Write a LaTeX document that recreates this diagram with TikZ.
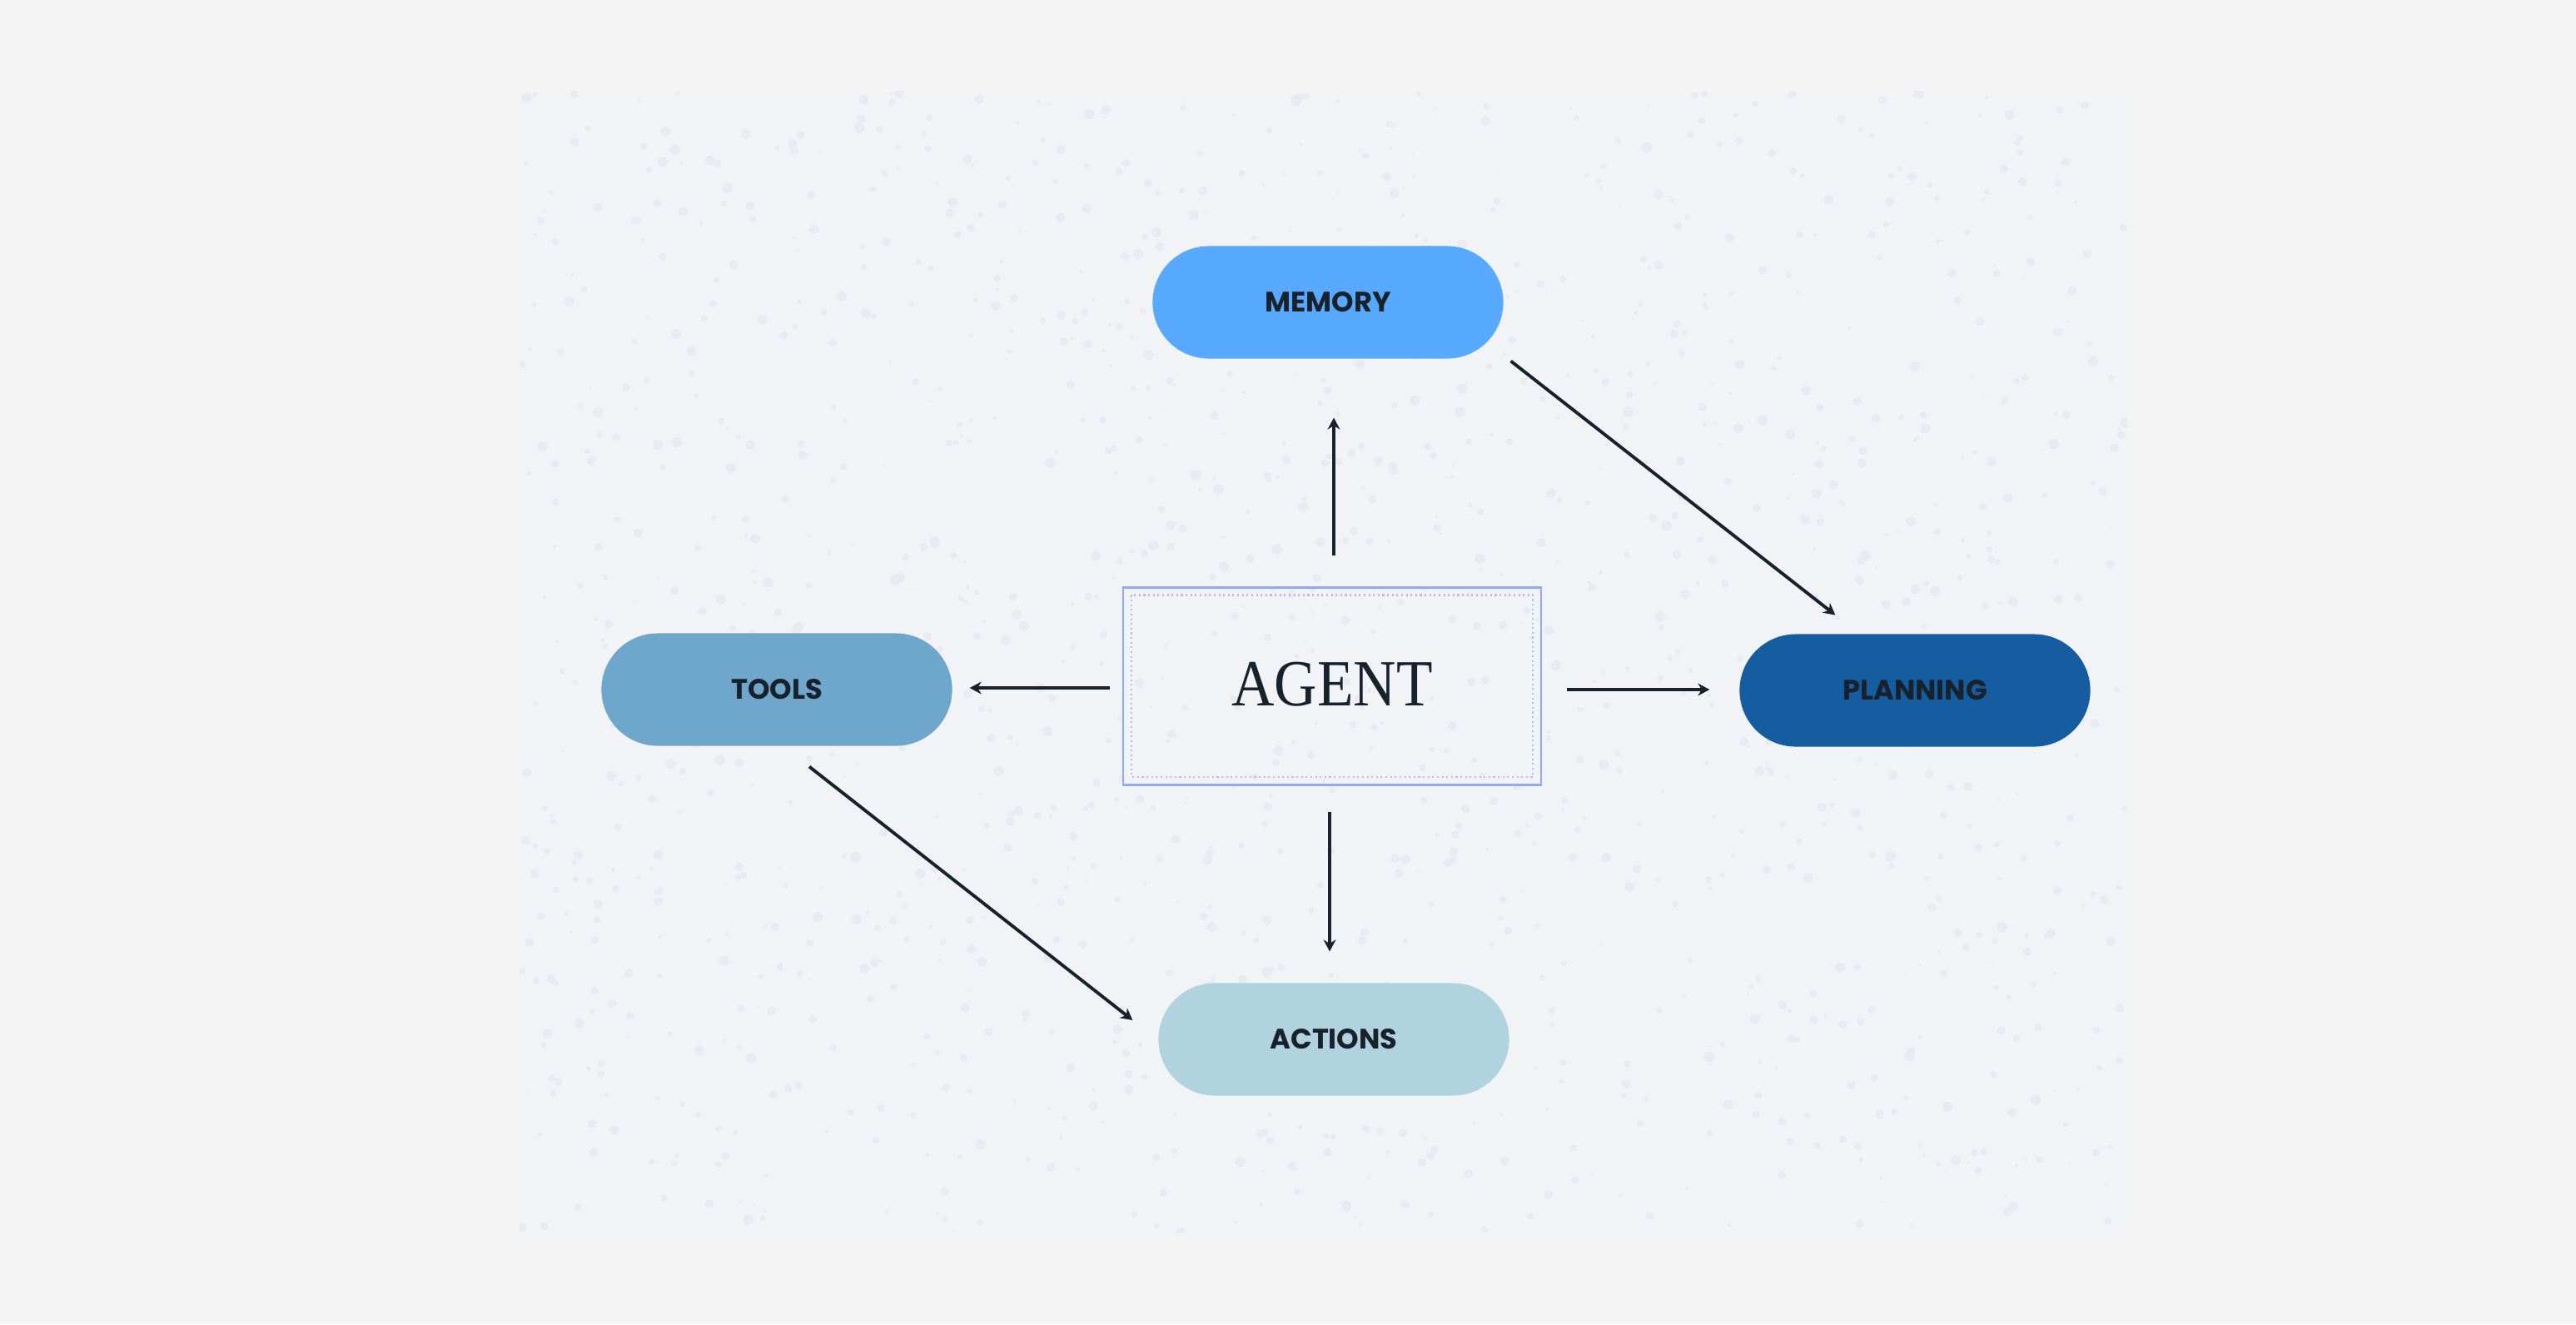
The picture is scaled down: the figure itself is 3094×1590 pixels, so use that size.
\documentclass[tikz,border=0pt]{standalone}
\usepackage{fontspec}
\newfontfamily\labelfont{Poppins}
\newfontfamily\agentfont{Liberation Serif}
\usetikzlibrary{arrows.meta,calc}
\definecolor{pagebg}{HTML}{F4F4F5}
\definecolor{panelbg}{HTML}{F2F3F6}
\definecolor{speck}{HTML}{E9EAF0}
\definecolor{memcol}{HTML}{57AAFF}
\definecolor{toolcol}{HTML}{6FA6CC}
\definecolor{plancol}{HTML}{155DA0}
\definecolor{actcol}{HTML}{B1D3E0}
\definecolor{labeltext}{HTML}{18222C}
\definecolor{agentline}{HTML}{93AAF2}
\definecolor{agentinner}{HTML}{B4BEE6}
\tikzset{
  pill/.style={rectangle, rounded corners=0.675cm, minimum width=4.21cm, minimum height=1.35cm,
    inner sep=0pt, outer sep=0pt, text=labeltext,
    font=\labelfont\bfseries\fontsize{9.6}{11}\selectfont},
  arr/.style={draw=labeltext, line width=1.1pt, -{Stealth[length=4pt,width=4.2pt]}},
}
\begin{document}
\begin{tikzpicture}[x=0.01cm,y=-0.01cm]
\useasboundingbox (0,0) rectangle (3094,1590);
\fill[pagebg] (0,0) rectangle (3094,1590);
\fill[panelbg] (624,109) rectangle (2555,1480);
\pgfmathsetseed{11}
\begin{scope}
\clip (624,109) rectangle (2555,1480);
\foreach \i in {1,...,1400} {
  \fill[speck, opacity=0.8] ({624+rnd*1931},{109+rnd*1371}) circle[radius={0.4pt+rnd*1.4pt}];
}
\end{scope}

\node[pill, fill=memcol] (memory) at (1595,363) {MEMORY};
\node[pill, fill=toolcol] (tools) at (933,828) {TOOLS};
\node[pill, fill=plancol] (planning) at (2300,829) {PLANNING};
\node[pill, fill=actcol] (actions) at (1602,1248) {ACTIONS};

\node[draw=agentline, line width=0.7pt, minimum width=5.02cm, minimum height=2.37cm,
      inner sep=0pt, outer sep=0pt, text=labeltext] (agent) at (1600,824)
      {\raisebox{0.5mm}{\scalebox{0.9}[1]{\agentfont\fontsize{22.5}{26}\selectfont AGENT}}};
\draw[agentinner, densely dotted, line width=0.6pt]
  ($(agent.north west)+(10,9)$) rectangle ($(agent.south east)+(-10,-10)$);

\draw[arr] ($(agent.north)+(2,-38)$) -- ($(memory.south)+(7,71)$);
\draw[arr] ($(agent.south)+(-3,32)$) -- ($(actions.north)+(-5,-38)$);
\draw[arr] ($(agent.west)+(-16,2)$) -- ($(tools.east)+(21,-2)$);
\draw[arr] ($(agent.east)+(31,4)$) -- ($(planning.west)+(-36,-1)$);
\draw[arr] ($(memory.south east)+(9,3)$) -- ($(planning.north west)+(115,-23)$);
\draw[arr] ($(tools.south)+(39,25)$) -- ($(actions.west)+(-31,-23)$);
\end{tikzpicture}
\end{document}
